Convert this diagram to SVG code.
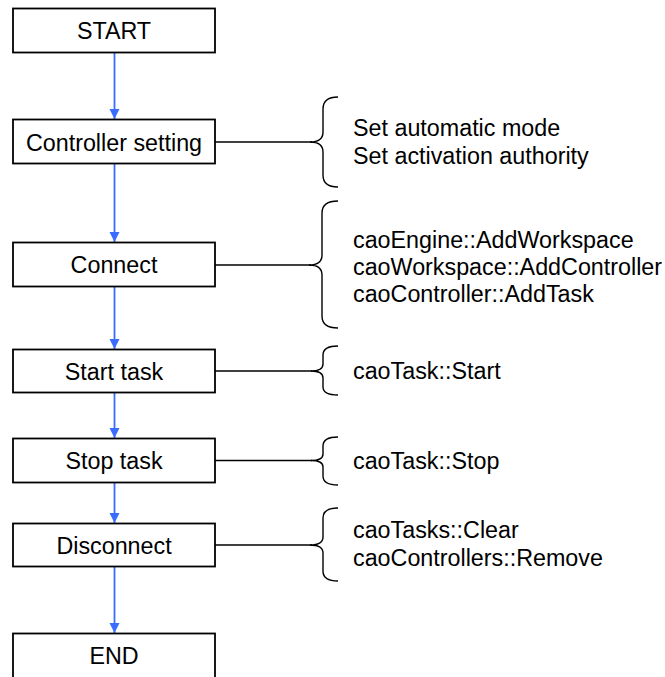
<svg xmlns="http://www.w3.org/2000/svg" width="665" height="677" viewBox="0 0 665 677">
<style>
.box{fill:#fff;stroke:#000;stroke-width:1.8}
.t{font-family:"Liberation Sans",Arial,sans-serif;font-size:23.3px;fill:#000}
.c{text-anchor:middle}
.arr{stroke:#3a6cff;stroke-width:1.8;fill:none}
.br{stroke:#000;stroke-width:1.4;fill:none}
</style>
<defs>
<marker id="ah" markerWidth="10" markerHeight="11" refX="10" refY="5" orient="auto" markerUnits="userSpaceOnUse" viewBox="0 0 10 10">
<path d="M0,0 L10,5 L0,10 Z" fill="#3a6cff"/>
</marker>
</defs>
<rect width="665" height="677" fill="#fff"/>
<g id="connectors">
<line class="arr" x1="114.5" y1="53" x2="114.5" y2="119" marker-end="url(#ah)"/>
<line class="arr" x1="114.5" y1="164" x2="114.5" y2="242" marker-end="url(#ah)"/>
<line class="arr" x1="114.5" y1="287" x2="114.5" y2="349" marker-end="url(#ah)"/>
<line class="arr" x1="114.5" y1="393" x2="114.5" y2="438" marker-end="url(#ah)"/>
<line class="arr" x1="114.5" y1="483" x2="114.5" y2="523" marker-end="url(#ah)"/>
<line class="arr" x1="114.5" y1="567" x2="114.5" y2="633" marker-end="url(#ah)"/>
<line class="br" x1="215" y1="142" x2="312" y2="142"/>
<line class="br" x1="215" y1="265" x2="311" y2="265"/>
<line class="br" x1="215" y1="371" x2="312" y2="371"/>
<line class="br" x1="215" y1="460.5" x2="312" y2="460.5"/>
<line class="br" x1="215" y1="545" x2="312" y2="545"/>
</g>
<g id="start"><rect class="box" x="13" y="8.5" width="202" height="44"/><text class="t c" x="114" y="39">START</text></g>
<g id="controller-setting"><rect class="box" x="13" y="119.5" width="202" height="44"/><text class="t c" x="114" y="150.5">Controller setting</text></g>
<g id="connect"><rect class="box" x="13" y="242.5" width="202" height="44"/><text class="t c" x="114" y="273">Connect</text></g>
<g id="start-task"><rect class="box" x="13" y="349.5" width="202" height="43"/><text class="t c" x="114" y="379.5">Start task</text></g>
<g id="stop-task"><rect class="box" x="13" y="438.5" width="202" height="44"/><text class="t c" x="114" y="469">Stop task</text></g>
<g id="disconnect"><rect class="box" x="13" y="523.5" width="202" height="43"/><text class="t c" x="114" y="553.5">Disconnect</text></g>
<g id="end"><rect class="box" x="13" y="633.5" width="202" height="50"/><text class="t c" x="114" y="664">END</text></g>
<g id="note-controller">
<path class="br" d="M338,97 Q323,97 323,109 L323,132 Q323,142 310,142 Q323,142 323,152 L323,175 Q323,187 338,187"/>
<text class="t" x="353" y="136">Set automatic mode</text>
<text class="t" x="353" y="164">Set activation authority</text>
</g>
<g id="note-connect">
<path class="br" d="M338,201 Q322,201 322,213 L322,255 Q322,265 309,265 Q322,265 322,275 L322,316 Q322,328 338,328"/>
<text class="t" x="353" y="247.5">caoEngine::AddWorkspace</text>
<text class="t" x="353" y="274.5">caoWorkspace::AddController</text>
<text class="t" x="353" y="301.5">caoController::AddTask</text>
</g>
<g id="note-start">
<path class="br" d="M338,346 Q323,346 323,355 L323,364 Q323,371 311,371 Q323,371 323,378 L323,387 Q323,395 338,395"/>
<text class="t" x="353" y="379">caoTask::Start</text>
</g>
<g id="note-stop">
<path class="br" d="M338,437 Q323,437 323,446 L323,454 Q323,460.5 311,460.5 Q323,460.5 323,467 L323,476 Q323,485 338,485"/>
<text class="t" x="353" y="469">caoTask::Stop</text>
</g>
<g id="note-disconnect">
<path class="br" d="M338,508 Q323,508 323,518 L323,537 Q323,545 310,545 Q323,545 323,553 L323,571 Q323,581 338,581"/>
<text class="t" x="353" y="538">caoTasks::Clear</text>
<text class="t" x="353" y="565.5">caoControllers::Remove</text>
</g>
</svg>
